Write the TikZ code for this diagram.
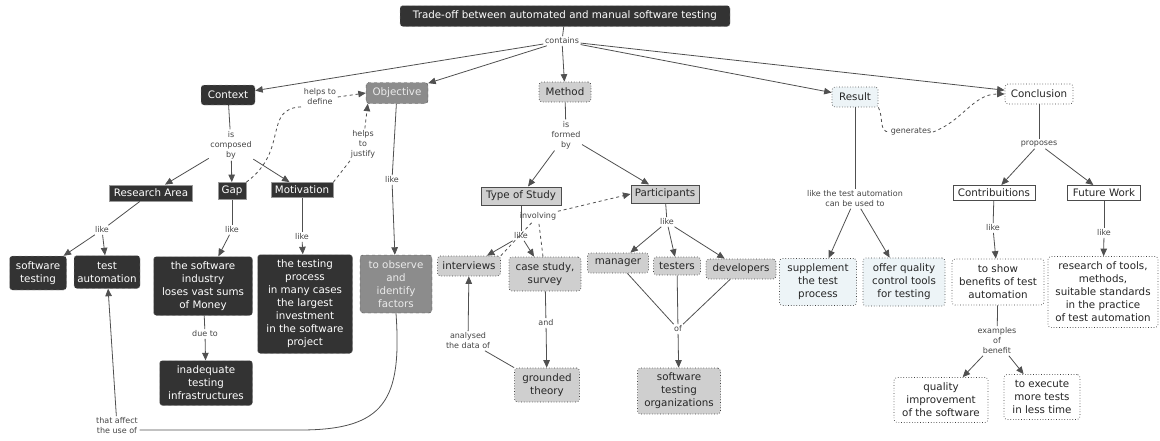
\documentclass[tikz,border=0pt]{standalone}
\usepackage{fontspec}
\setmainfont{DejaVu Sans}
\usetikzlibrary{arrows.meta,calc}
\definecolor{darkfill}{HTML}{333333}
\definecolor{midfill}{HTML}{8C8C8C}
\definecolor{lightfill}{HTML}{CFCFCF}
\definecolor{bluefill}{HTML}{EDF4F7}
\definecolor{edge}{HTML}{505050}
\definecolor{lbltext}{HTML}{444444}
\begin{document}
\begin{tikzpicture}[x=1pt,y=-1pt,
  every node/.style={font=\fontsize{10.3}{13}\selectfont, align=center, inner sep=1pt},
  sz/.style 2 args={minimum width=#1, minimum height=#2},
  dark/.style={fill=darkfill, text=white, draw=gray!70, dashed, rounded corners=3pt},
  darkrect/.style={fill=darkfill, text=white, draw=gray!80, line width=0.8pt},
  mid/.style={fill=midfill, text=white!92!black, draw=gray!60!black, dashed, rounded corners=3pt},
  light/.style={fill=lightfill, text=black!85, draw=gray!50!black, dotted, line width=0.7pt, rounded corners=3pt},
  lightrect/.style={fill=lightfill, text=black!85, draw=gray!60!black, line width=1pt},
  blue/.style={fill=bluefill, text=black!85, draw=gray!50!black, dotted, line width=0.7pt, rounded corners=3pt},
  plain/.style={fill=white, text=black!85, draw=gray!50!black, dotted, line width=0.7pt, rounded corners=3pt},
  plainrect/.style={fill=white, text=black!85, draw=gray!60!black, line width=1pt},
  lbl/.style={font=\fontsize{8}{10}\selectfont, text=lbltext, inner sep=1.5pt},
  link/.style={draw=edge, line width=0.8pt},
  arr/.style={link, -{Triangle[length=7.5pt,width=6.5pt]}},
  dlink/.style={draw=edge, line width=0.8pt, dashed},
  darr/.style={dlink, -{Triangle[length=7.5pt,width=6.5pt]}}
]
\useasboundingbox (0,0) rectangle (1160,440);

% concepts
\node[dark, sz={330}{21}] (title) at (565,16) {Trade-off between automated and manual software testing};
\node[dark, sz={54}{20}] (context) at (228,95) {Context};
\node[mid, sz={62}{21}] (objective) at (397,93) {Objective};
\node[light, sz={52}{20}] (method) at (565,92) {Method};
\node[blue, sz={46}{20}] (result) at (855,97) {Result};
\node[plain, sz={68}{20}] (conclusion) at (1039,94) {Conclusion};

\node[darkrect, sz={83}{16}] (research) at (151,193) {Research Area};
\node[darkrect, sz={28}{17}] (gap) at (232,191) {Gap};
\node[darkrect, sz={62}{15}] (motivation) at (302,190) {Motivation};

\node[dark, sz={57}{34}] (swtesting) at (38,273) {software\\testing};
\node[dark, sz={66}{33}] (testauto) at (107,272) {test\\automation};
\node[dark, sz={99}{59}] (industry) at (203,286) {the software\\industry\\loses vast sums\\of Money};
\node[dark, sz={93}{45}] (inadequate) at (206,383) {inadequate\\testing\\infrastructures};
\node[dark, sz={95}{99}] (process) at (305,304) {the testing\\process\\in many cases\\the largest\\investment\\in the software\\project};
\node[mid, sz={72}{58}] (observe) at (396,284) {to observe\\and\\identify\\factors};

\node[lightrect, sz={80}{18}] (typestudy) at (521,196) {Type of Study};
\node[lightrect, sz={68}{18}] (participants) at (665,194) {Participants};
\node[light, sz={63}{20}] (interviews) at (469,266) {interviews};
\node[light, sz={72}{34}] (casestudy) at (545,274) {case study,\\survey};
\node[light, sz={65}{34}] (grounded) at (547,385) {grounded\\theory};
\node[light, sz={61}{20}] (manager) at (618,263) {manager};
\node[light, sz={47}{18}] (testers) at (677,266) {testers};
\node[light, sz={70}{20}] (developers) at (741,269) {developers};
\node[light, sz={83}{46}] (orgs) at (679,391) {software\\testing\\organizations};

\node[blue, sz={77}{47}] (supplement) at (818,282) {supplement\\the test\\process};
\node[blue, sz={82}{48}] (offer) at (904,282) {offer quality\\control tools\\for testing};

\node[plainrect, sz={82}{15}] (contrib) at (994,193) {Contribuitions};
\node[plainrect, sz={73}{15}] (future) at (1104,193) {Future Work};
\node[plain, sz={92}{46}] (show) at (998,282) {to show\\benefits of test\\automation};
\node[plain, sz={110}{71}] (practice) at (1103,292) {research of tools,\\methods,\\suitable standards\\in the practice\\of test automation};
\node[plain, sz={94}{45}] (quality) at (941,400) {quality\\improvement\\of the software};
\node[plain, sz={76}{45}] (execute) at (1042,397) {to execute\\more tests\\in less time};

% linking phrases
\node[lbl] (contains) at (562,41) {contains};
\node[lbl] (composed) at (231,145) {is\\composed\\by};
\node[lbl] (helpsdef) at (320,97) {helps to\\define};
\node[lbl] (helpsjust) at (363,144) {helps\\to\\justify};
\node[lbl] (likeobj) at (392,180) {like};
\node[lbl] (likera) at (102,230) {like};
\node[lbl] (likegap) at (232,230) {like};
\node[lbl] (likemot) at (302,237) {like};
\node[lbl] (dueto) at (205,334) {due to};
\node[lbl] (affect) at (117,426) {that affect\\the use of};
\node[lbl] (formed) at (566,135) {is\\formed\\by};
\node[lbl] (involving) at (538,216) {involving};
\node[lbl] (liketype) at (521,236) {like};
\node[lbl] (analysed) at (468,341) {analysed\\the data of};
\node[lbl] (and) at (546,323) {and};
\node[lbl] (likepart) at (667,222) {like};
\node[lbl] (of) at (678,329) {of};
\node[lbl] (usedto) at (855,199) {like the test automation\\can be used to};
\node[lbl] (generates) at (911,132) {generates};
\node[lbl] (proposes) at (1039,144) {proposes};
\node[lbl] (likecon) at (993,228) {like};
\node[lbl] (likefut) at (1104,233) {like};
\node[lbl] (examples) at (997,341) {examples\\of\\benefit};

% connectors
\draw[link] (title) -- (contains);
\foreach \t in {context,objective,method,result,conclusion}
  \draw[arr] (contains) -- (\t);

\draw[link] (context) -- (composed);
\foreach \t in {research,gap,motivation}
  \draw[arr] (composed) -- (\t);

\draw[dlink] (gap.north east) .. controls (290,150) and (262,108) .. (helpsdef.south west);
\draw[darr] (helpsdef.east) -- (objective.west);
\draw[dlink] (motivation.north east) -- (helpsjust);
\draw[darr] (helpsjust) -- ($(objective.south west)+(2,0)$);

\draw[link] (objective) -- (likeobj);
\draw[arr] (likeobj) -- (observe);

\draw[link] (research) -- (likera);
\draw[arr] (likera) -- (swtesting);
\draw[arr] (likera) -- (testauto);
\draw[link] (gap) -- (likegap);
\draw[arr] (likegap) -- (industry);
\draw[link] (motivation) -- (likemot);
\draw[arr] (likemot) -- (process);
\draw[link] (industry) -- (dueto);
\draw[arr] (dueto) -- (inadequate);

\draw[link] (observe.south) .. controls (402,400) and (385,430) .. (300,430) -- (affect.east |- 0,430);
\draw[arr] (affect) -- (testauto);

\draw[link] (method) -- (formed);
\draw[arr] (formed) -- (typestudy);
\draw[arr] (formed) -- (participants);

\draw[link] (typestudy) -- (liketype);
\draw[arr] (liketype) -- (interviews);
\draw[arr] (liketype) -- (casestudy);
\draw[dlink] (interviews.north east) -- (involving);
\draw[dlink] ($(casestudy.north)+(-2,0)$) -- (involving);
\draw[darr] (involving) -- (participants.west);

\draw[link] (casestudy) -- (and);
\draw[arr] (and) -- (grounded);
\draw[link] (grounded.north west) -- (analysed);
\draw[arr] (analysed) -- (interviews);

\draw[link] (participants) -- (likepart);
\foreach \t in {manager,testers,developers}
  \draw[arr] (likepart) -- (\t);
\foreach \s in {manager,testers,developers}
  \draw[link] (\s) -- (of);
\draw[arr] (of) -- (orgs);

\draw[link] (result) -- (usedto);
\draw[arr] (usedto) -- (supplement);
\draw[arr] (usedto) -- (offer);

\draw[dlink] (result.south east) to[out=-60,in=180] (generates.west);
\draw[darr] (generates.east) to[out=20,in=180] (conclusion.west);

\draw[link] (conclusion) -- (proposes);
\draw[arr] (proposes) -- (contrib);
\draw[arr] (proposes) -- (future);
\draw[link] (contrib) -- (likecon);
\draw[arr] (likecon) -- (show);
\draw[link] (future) -- (likefut);
\draw[arr] (likefut) -- (practice);
\draw[link] (show) -- (examples);
\draw[arr] (examples) -- (quality);
\draw[arr] (examples) -- (execute);
\end{tikzpicture}
\end{document}
